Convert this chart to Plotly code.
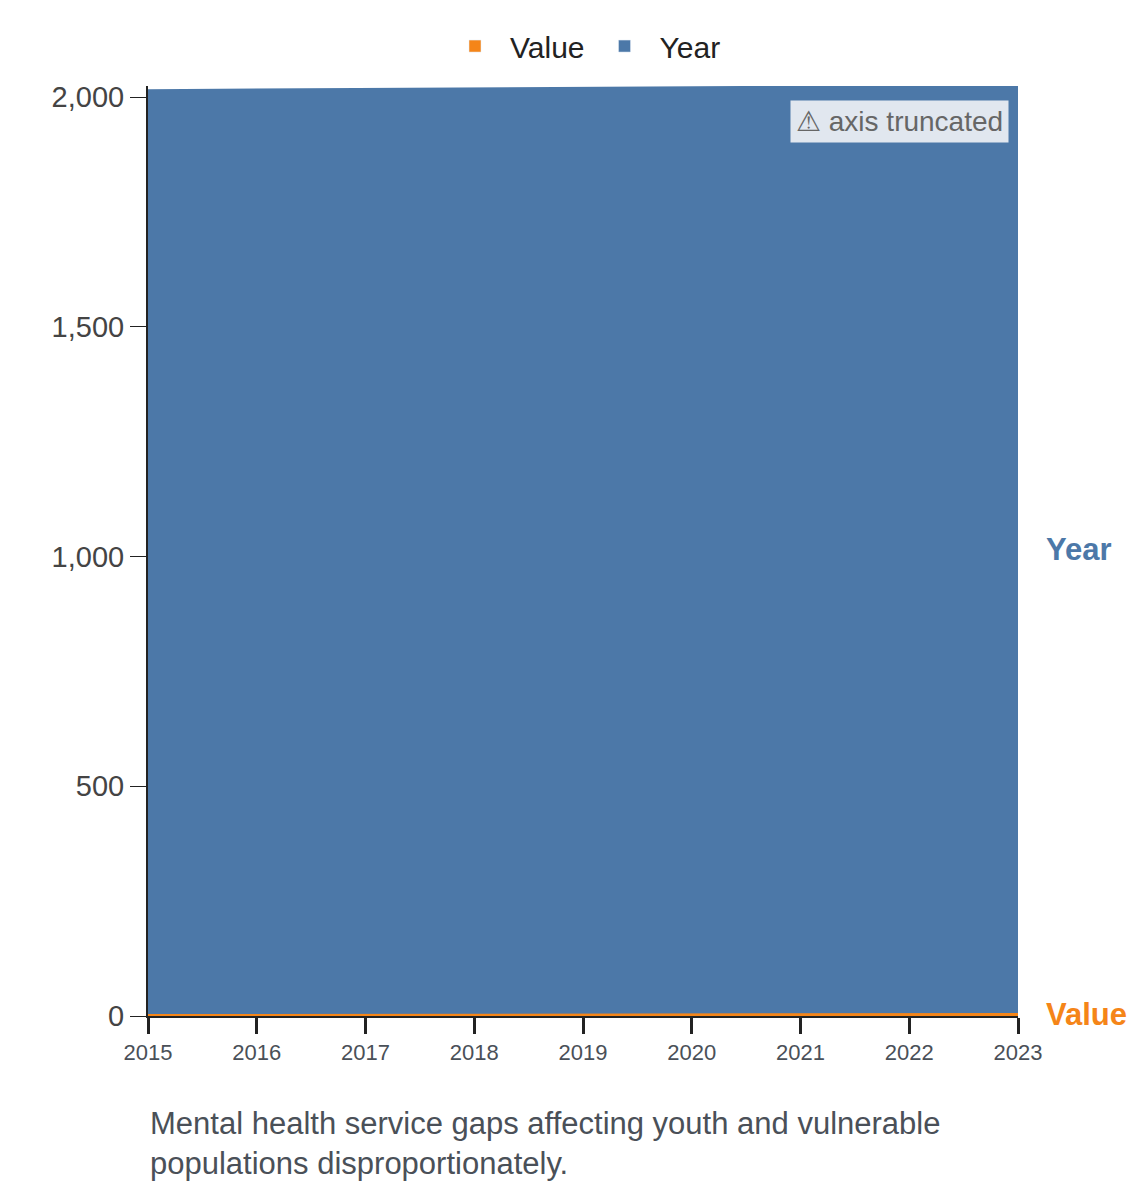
import plotly.graph_objects as go

years = ["2015", "2016", "2017", "2018", "2019", "2020", "2021", "2022", "2023"]
year_vals = [2015, 2016, 2017, 2018, 2019, 2020, 2021, 2022, 2023]
value_vals = [2.1, 2.4, 2.6, 2.9, 3.1, 3.4, 3.6, 3.9, 4.2]

blue = "#4c78a8"
orange = "#f58518"

fig = go.Figure()
fig.add_trace(go.Scatter(x=years, y=value_vals, name="Value", stackgroup="s",
                         mode="lines", line=dict(color=orange, width=2),
                         fillcolor=orange, showlegend=False))
fig.add_trace(go.Scatter(x=years, y=year_vals, name="Year", stackgroup="s",
                         mode="lines", line=dict(color=blue, width=0),
                         fillcolor=blue, showlegend=False))
# legend swatches
fig.add_trace(go.Bar(x=[None], y=[None], name="Year", marker_color=blue))
fig.add_trace(go.Bar(x=[None], y=[None], name="Value", marker_color=orange))

fig.update_layout(
    width=1140, height=1182,
    margin=dict(l=140, r=130, t=75, b=174),
    plot_bgcolor="white", paper_bgcolor="white",
    font=dict(family="Liberation Sans, Arial", size=29, color="#444"),
    showlegend=True,
    legend=dict(orientation="h", x=0.5, xanchor="center", y=1.015, yanchor="bottom",
                font=dict(size=30, color="#222"), itemwidth=60),
    xaxis=dict(range=[0, 8], showgrid=False, showline=True, linecolor="#222", linewidth=2,
               ticks="outside", ticklen=16, tickwidth=3, tickcolor="#222", automargin=False,
               tickfont=dict(size=22, color="#4a5058")),
    yaxis=dict(range=[0, 2024], showgrid=False, showline=True, linecolor="#222", linewidth=2,
               ticks="outside", ticklen=16, tickcolor="#222", tickformat=",", automargin=False,
               tickvals=[0, 500, 1000, 1500, 2000], zeroline=False),
)

fig.add_annotation(xref="paper", yref="y", x=1.03, y=value_vals[-1] + year_vals[-1] / 2,
                   text="<b>Year</b>", showarrow=False, xanchor="left",
                   font=dict(color=blue, size=31))
fig.add_annotation(xref="paper", yref="y", x=1.03, y=value_vals[-1],
                   text="<b>Value</b>", showarrow=False, xanchor="left",
                   font=dict(color=orange, size=31))
fig.add_annotation(xref="paper", yref="paper", x=0.99, y=0.985, xanchor="right", yanchor="top",
                   text="⚠ axis truncated", showarrow=False, bgcolor="#e1e7ef",
                   borderpad=5, font=dict(size=28, color="#666"))
fig.add_annotation(xref="paper", yref="paper", x=0, y=-0.095, xanchor="left", yanchor="top",
                   align="left", showarrow=False,
                   text="Mental health service gaps affecting youth and vulnerable<br>populations disproportionately.",
                   font=dict(size=31, color="#4a5058"))

fig.write_html("out.html")
